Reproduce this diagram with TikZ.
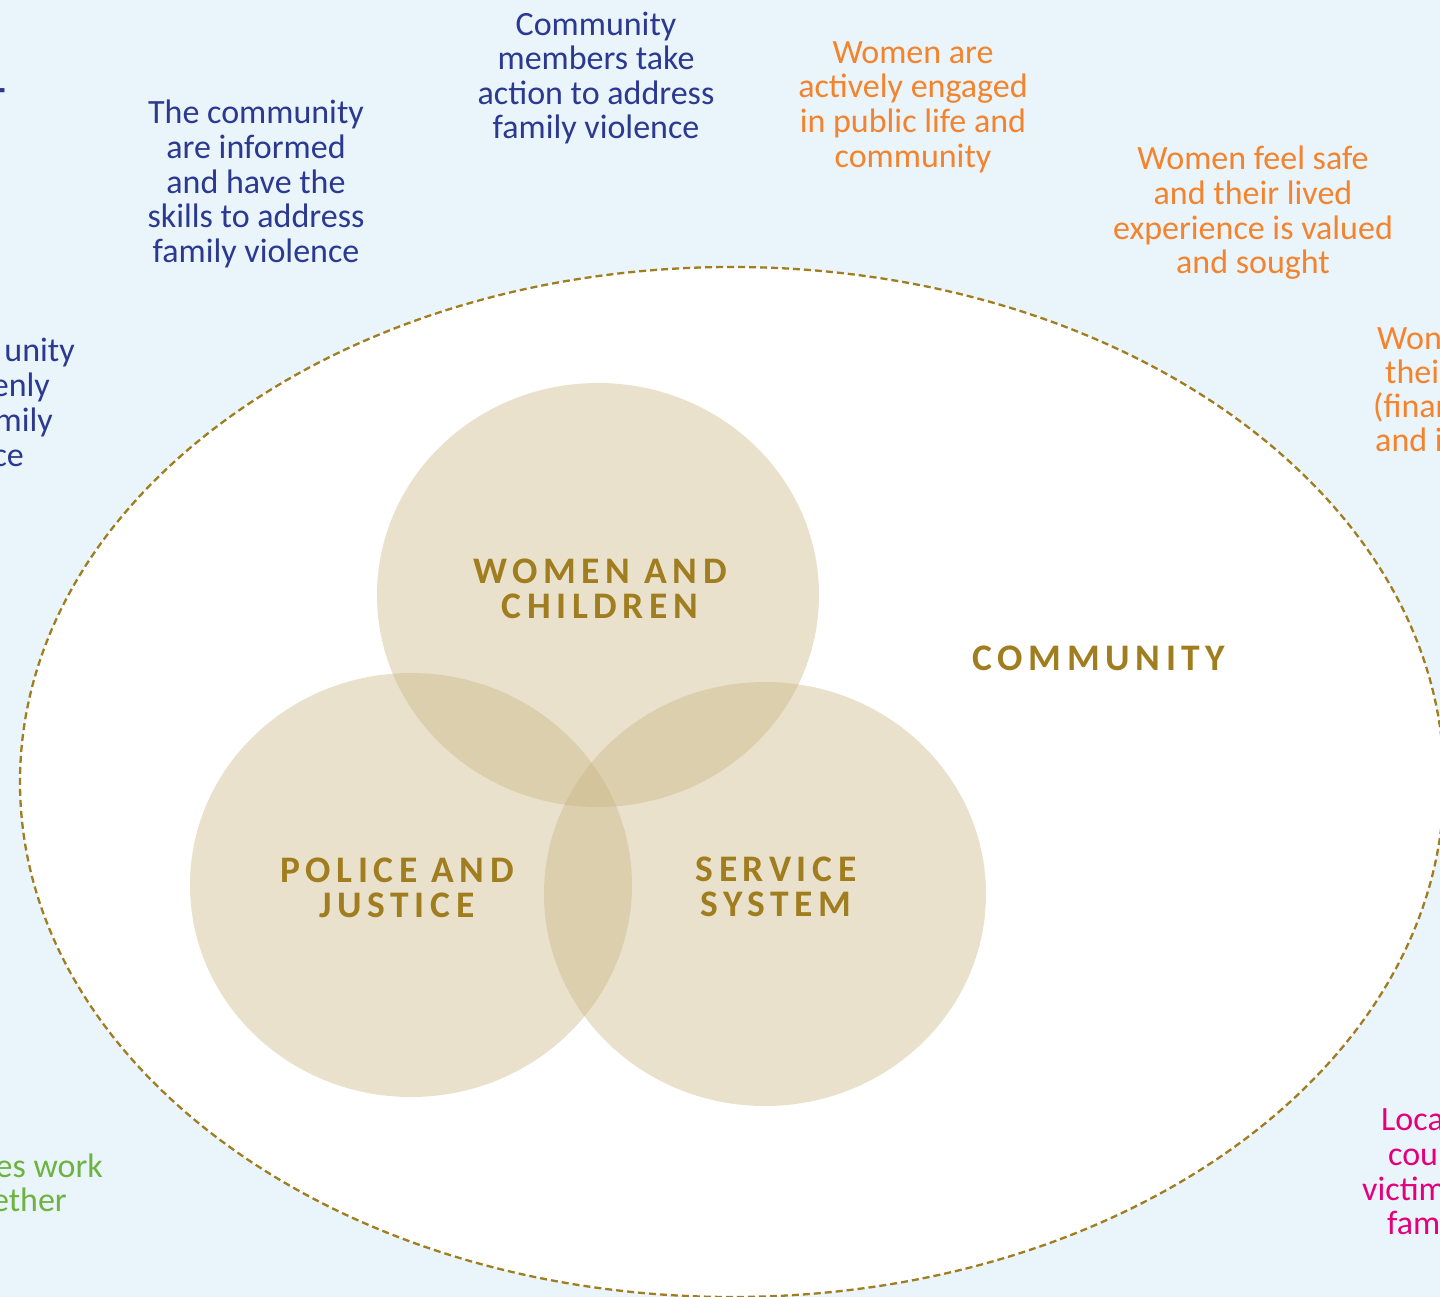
\documentclass[tikz,border=0pt]{standalone}
\usepackage{fontspec}
\setmainfont{Carlito}
\newfontfamily\labfont[LetterSpace=15]{Carlito}
\usetikzlibrary{shapes.geometric}
\definecolor{bgblue}{RGB}{234,244,251}
\definecolor{txtblue}{RGB}{43,57,144}
\definecolor{txtorange}{RGB}{243,132,45}
\definecolor{txtgreen}{RGB}{109,179,63}
\definecolor{txtpink}{RGB}{228,0,124}
\definecolor{gold}{RGB}{160,125,30}
\definecolor{venncol}{RGB}{201,181,128}
\tikzset{
  body/.style={inner sep=0pt, align=center, font=\fontsize{34}{34.6}\selectfont},
  frag/.style={inner sep=0pt, font=\fontsize{34}{34.6}\selectfont},
  venn/.style={ellipse, fill=venncol, fill opacity=0.4, draw=none, minimum width=442pt, minimum height=424pt, inner sep=0pt},
  vlabel/.style={inner sep=0pt, align=center, text=gold, font=\fontsize{37.5}{35.5}\selectfont\labfont\bfseries},
  commline/.style={ellipse, draw=gold, fill=white, line width=2.3pt, dash pattern=on 7pt off 4pt, minimum width=1424pt, minimum height=1030pt, inner sep=0pt}
}
\begin{document}
\begin{tikzpicture}[x=1pt,y=-1pt]
\useasboundingbox (0,0) rectangle (1440,1297);
\clip (0,0) rectangle (1440,1297);
\fill[bgblue] (0,0) rectangle (1440,1297);

% community ellipse
\node[commline] (comm) at (732,782) {};

% venn circles
\node[venn] (wc) at (598,595) {};
\node[venn] (pj) at (411,885) {};
\node[venn] (ss) at (765,894) {};

\node[vlabel] (wcl) at (600,589) {WOMEN AND\\CHILDREN};
\node[vlabel] (pjl) at (397,888) {POLICE AND\\JUSTICE};
\node[vlabel] (ssl) at (776,887) {SERVICE\\SYSTEM};
\node[vlabel] (cl) at (1099,658) {COMMUNITY};

% top texts
\node[body, text=txtblue] (t1) at (256,184) {The community\\are informed\\and have the\\skills to address\\family violence};
\node[body, text=txtblue] (t2) at (596,78) {Community\\members take\\action to address\\family violence};
\node[body, text=txtorange] (t3) at (913,107) {Women are\\actively engaged\\in public life and\\community};
\node[body, text=txtorange] (t4) at (1253,213) {Women feel safe\\and their lived\\experience is valued\\and sought};

% left cut-off texts
\node[inner sep=0pt, anchor=base, text=txtblue, font=\fontsize{40}{40}\selectfont\bfseries] (tt) at (-5,115) {T};
\node[frag, anchor=base east, text=txtblue] (l1) at (75,361) {unity};
\node[frag, anchor=base east, text=txtblue] (l2) at (50,396) {enly};
\node[frag, anchor=base east, text=txtblue] (l3) at (53,431) {mily};
\node[frag, anchor=base east, text=txtblue] (l4) at (24,466) {ce};
\node[frag, anchor=base east, text=txtgreen] (g1) at (103,1177) {es work};
\node[frag, anchor=base east, text=txtgreen] (g2) at (67,1211) {ether};

% right cut-off texts
\node[frag, anchor=base west, text=txtorange] (r1) at (1377,349) {Won};
\node[frag, anchor=base west, text=txtorange] (r2) at (1385,383) {thei};
\node[frag, anchor=base west, text=txtorange] (r3) at (1373,417) {(finar};
\node[frag, anchor=base west, text=txtorange] (r4) at (1375,451) {and i};
\node[frag, anchor=base west, text=txtpink] (p1) at (1381,1130) {Loca};
\node[frag, anchor=base west, text=txtpink] (p2) at (1388,1165) {cou};
\node[frag, anchor=base west, text=txtpink] (p3) at (1362,1200) {victim};
\node[frag, anchor=base west, text=txtpink] (p4) at (1387,1234) {fam};
\end{tikzpicture}
\end{document}
